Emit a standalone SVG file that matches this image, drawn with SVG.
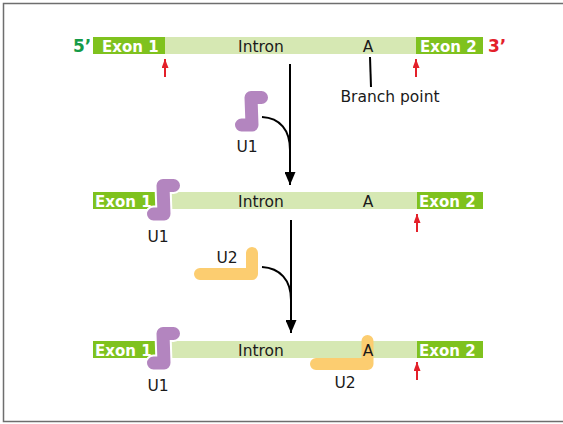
<svg xmlns="http://www.w3.org/2000/svg" width="563" height="424" viewBox="0 0 563 424">
<style>
.exon{fill:#7fc21e}
.intron{fill:#d6e8b3}
.ex{font-family:"DejaVu Sans","Liberation Sans",sans-serif;font-weight:bold;font-size:15px;fill:#ffffff}
.t{font-family:"DejaVu Sans","Liberation Sans",sans-serif;font-size:15.5px;fill:#1a1a1a}
.end{font-family:"DejaVu Sans","Liberation Sans",sans-serif;font-weight:bold;font-size:17px}
.u1{fill:none;stroke:#b385bf;stroke-width:13;stroke-linecap:round;stroke-linejoin:round}
.u1o{fill:none;stroke:#ffffff;stroke-width:17;stroke-linecap:round;stroke-linejoin:round}
.u2{fill:none;stroke:#fccd70;stroke-width:12;stroke-linecap:round;stroke-linejoin:round}
.blk{fill:none;stroke:#000;stroke-width:2}
.red{fill:none;stroke:#e3202a;stroke-width:2}
</style>
<defs>
<marker id="ah" viewBox="0 0 13 11" refX="13" refY="5.5" markerWidth="13" markerHeight="11" markerUnits="userSpaceOnUse" orient="auto">
<path d="M0,0 L13,5.5 L0,11 Z" fill="#000"/>
</marker>
<marker id="rh" viewBox="0 0 7 9" refX="3.5" refY="0" markerWidth="7" markerHeight="9" markerUnits="userSpaceOnUse" orient="0">
<path d="M0,9 L3.5,0 L7,9 Z" fill="#e3202a"/>
</marker>
</defs>
<rect x="3.5" y="3.5" width="565" height="418" fill="#ffffff" stroke="#6e6e6e" stroke-width="1.5"/>

<g id="pre-mrna">
<rect class="exon" x="93" y="37" width="72" height="17"/>
<rect class="intron" x="165" y="37" width="251" height="17"/>
<rect class="exon" x="416" y="37" width="67" height="17"/>
<text class="ex" x="102" y="51.5">Exon 1</text>
<text class="t" x="261" y="51.5" text-anchor="middle">Intron</text>
<text class="t" x="368" y="51.5" text-anchor="middle">A</text>
<text class="ex" x="420" y="51.5">Exon 2</text>
<text class="end" x="73" y="52" fill="#159a47">5’</text>
<text class="end" x="488" y="52" fill="#e3202a">3’</text>
</g>

<g id="branch-label">
<text class="t" x="390" y="102" text-anchor="middle">Branch point</text>
</g>

<g id="u1-free">
<path class="u1" d="M261.5,97.5 L251,97.5 L252,125 L241.5,125"/>
<text class="t" x="247" y="152" text-anchor="middle">U1</text>
</g>

<g id="row2">
<rect class="exon" x="93" y="192" width="67" height="17"/>
<rect class="intron" x="160" y="192" width="257" height="17"/>
<rect class="exon" x="417" y="192" width="66" height="17"/>
<text class="ex" x="95" y="206.5">Exon 1</text>
<text class="t" x="261" y="206.5" text-anchor="middle">Intron</text>
<text class="t" x="368" y="206.5" text-anchor="middle">A</text>
<text class="ex" x="419" y="206.5">Exon 2</text>
</g>

<g id="u1-bound-2">
<path class="u1o" d="M173.5,185.5 L163,185.5 L164,214 L153.5,214"/>
<path class="u1" d="M173.5,185.5 L163,185.5 L164,214 L153.5,214"/>
<text class="t" x="158" y="242" text-anchor="middle">U1</text>
</g>

<g id="u2-free">
<path class="u2" d="M252,253 L252,274 L200,274"/>
<text class="t" x="227" y="263" text-anchor="middle">U2</text>
</g>

<g id="row3">
<rect class="exon" x="93" y="341" width="67" height="17"/>
<rect class="intron" x="160" y="341" width="257" height="17"/>
<rect class="exon" x="417" y="341" width="66" height="17"/>
<text class="ex" x="95" y="355.5">Exon 1</text>
<text class="t" x="261" y="355.5" text-anchor="middle">Intron</text>
<text class="ex" x="419" y="355.5">Exon 2</text>
</g>

<g id="u2-bound">
<path class="u2" d="M367.5,341 L367.5,364 L316,364"/>
<text class="t" x="368" y="355.5" text-anchor="middle">A</text>
<text class="t" x="345" y="388" text-anchor="middle">U2</text>
</g>

<g id="u1-bound-3">
<path class="u1o" d="M173.5,333.5 L163,333.5 L164,363 L153.5,363"/>
<path class="u1" d="M173.5,333.5 L163,333.5 L164,363 L153.5,363"/>
<text class="t" x="158" y="391" text-anchor="middle">U1</text>
</g>

<g id="connectors">
<line class="blk" x1="370" y1="57" x2="371" y2="87"/>
<line class="blk" x1="290" y1="64" x2="290" y2="185" marker-end="url(#ah)"/>
<path class="blk" d="M262,117 C280,118 290,130 290,150"/>
<line class="blk" x1="291" y1="220" x2="291" y2="333" marker-end="url(#ah)"/>
<path class="blk" d="M262,267 C280,268 291,280 291,300"/>
<line class="red" x1="165" y1="59" x2="165" y2="77" marker-start="url(#rh)"/>
<line class="red" x1="416" y1="59" x2="416" y2="77" marker-start="url(#rh)"/>
<line class="red" x1="417" y1="214" x2="417" y2="232" marker-start="url(#rh)"/>
<line class="red" x1="417" y1="362" x2="417" y2="380" marker-start="url(#rh)"/>
</g>
</svg>
